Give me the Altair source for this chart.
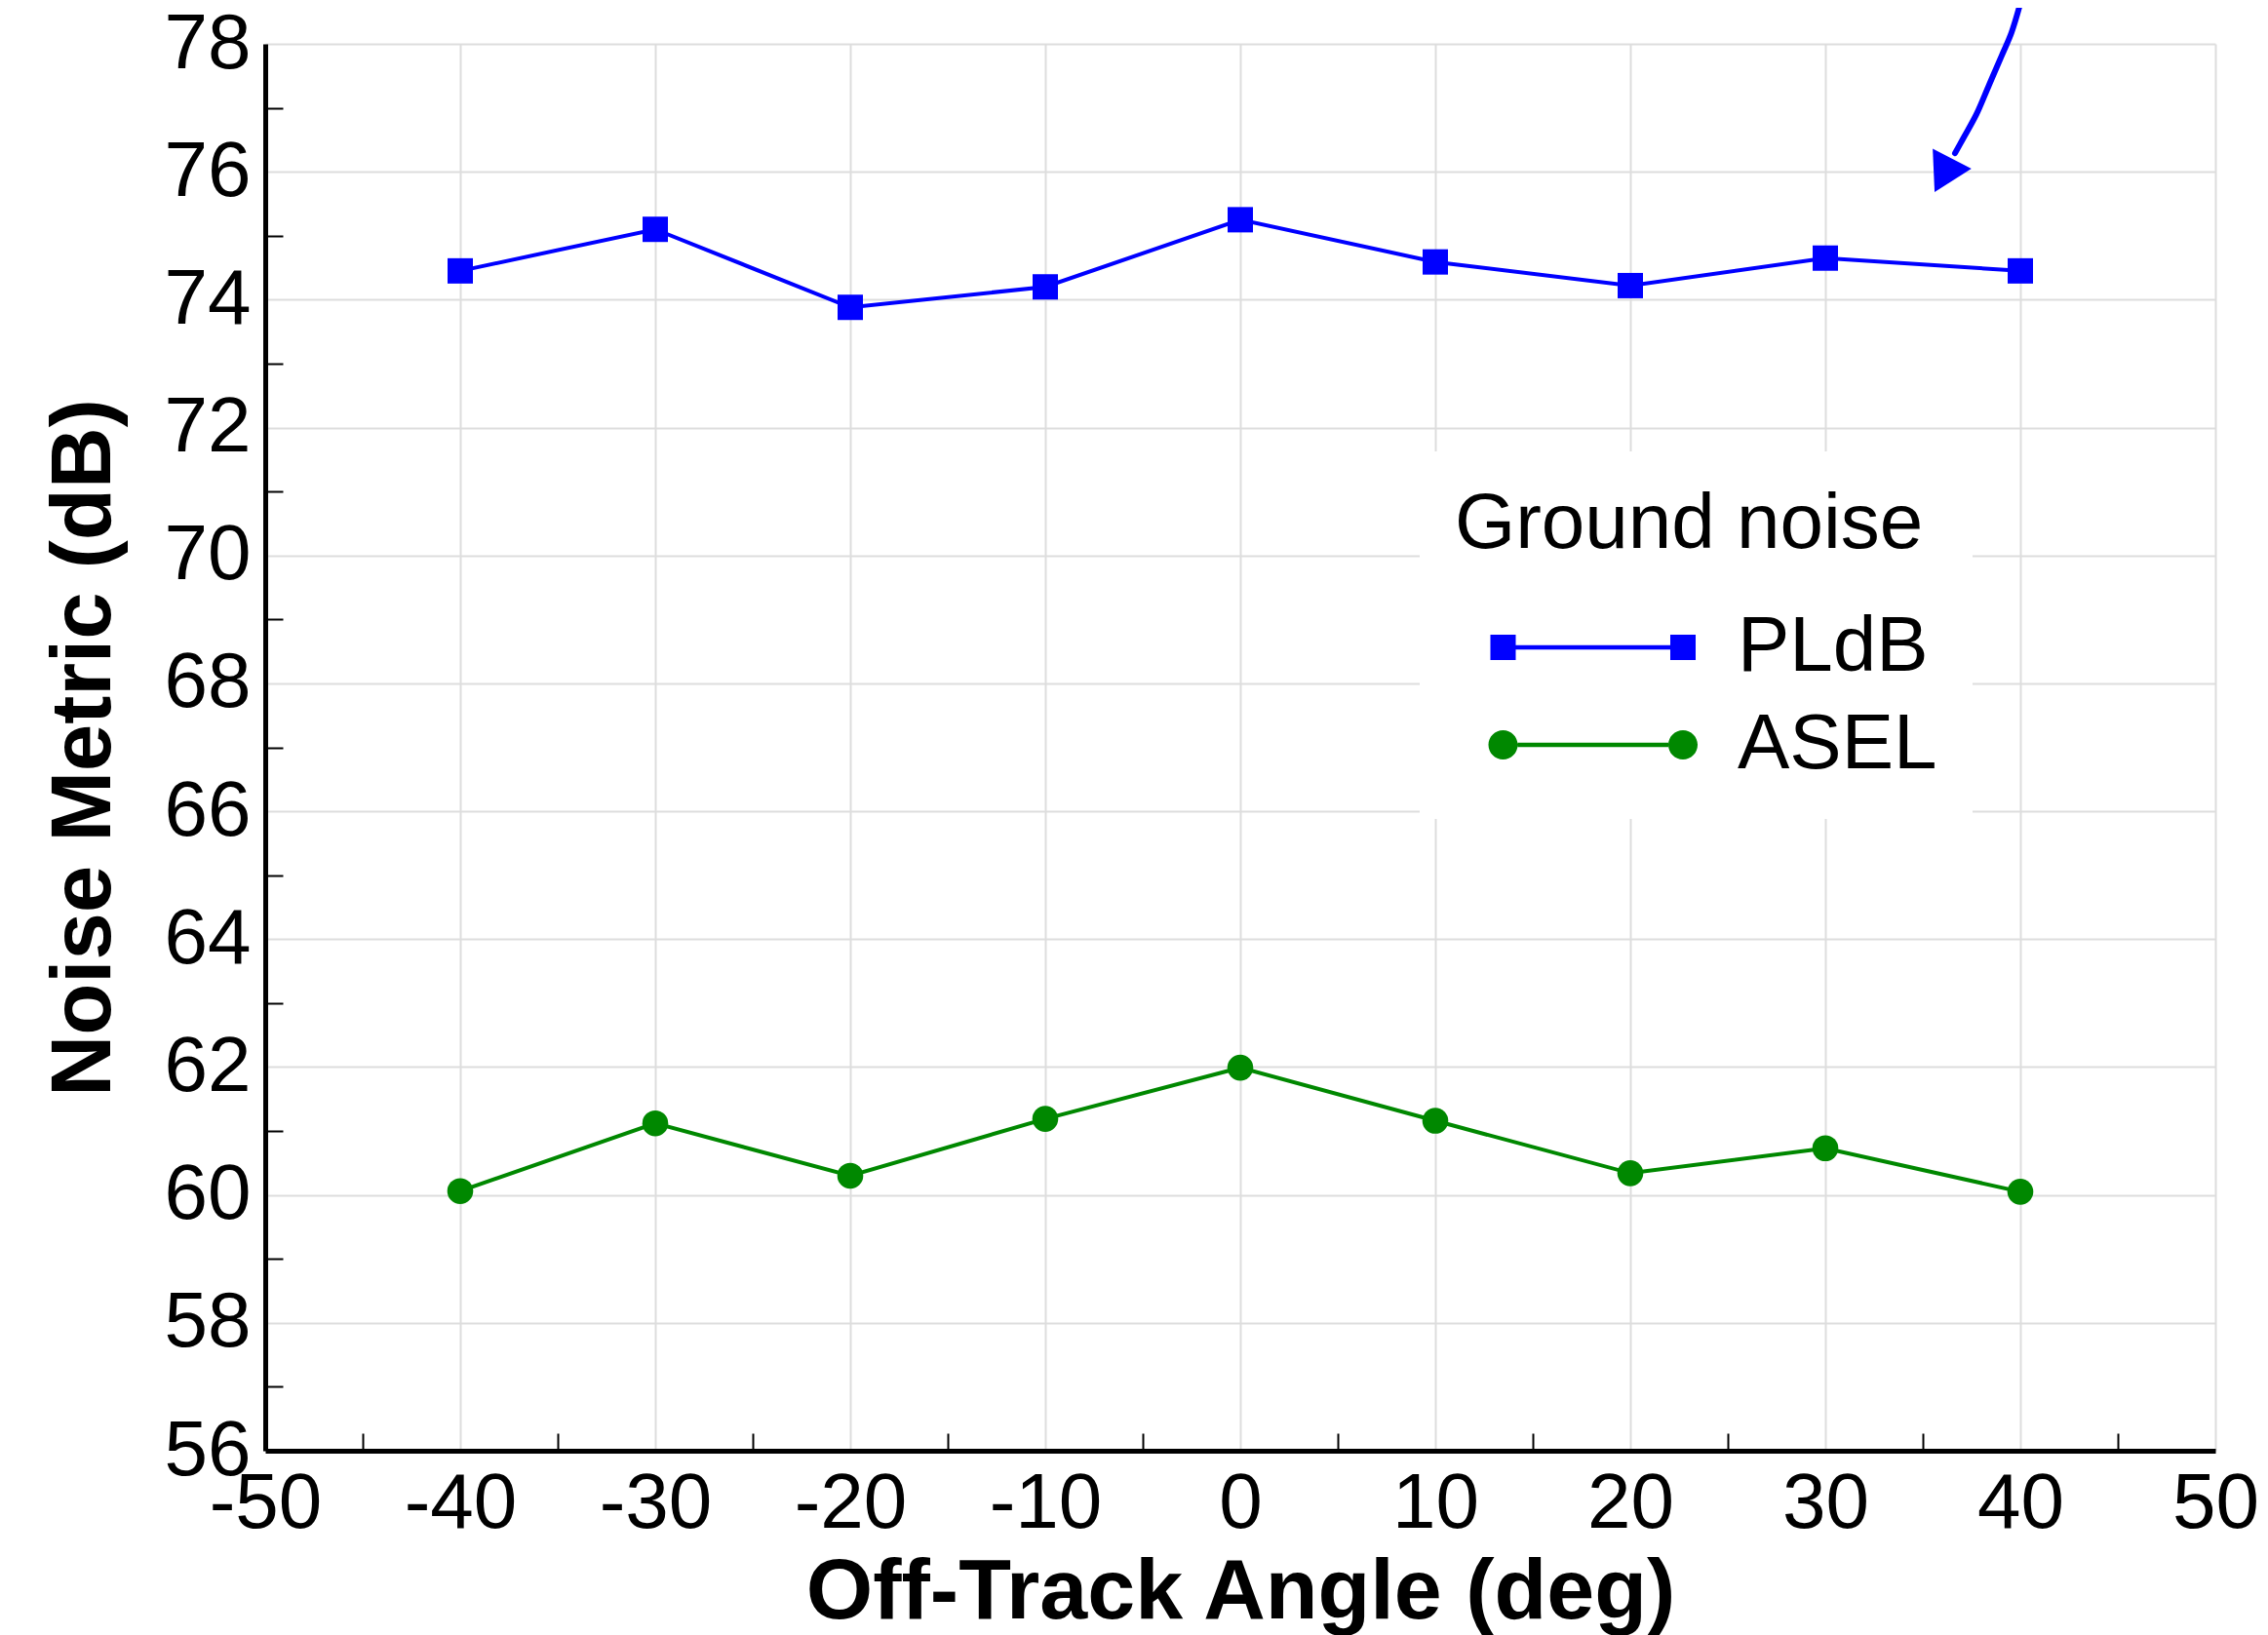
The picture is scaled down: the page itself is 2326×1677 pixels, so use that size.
import altair as alt
import pandas as pd

# ---------------- data ----------------
angles = [-40, -30, -20, -10, 0, 10, 20, 30, 40]
pldb = [74.45, 75.10, 73.88, 74.20, 75.25, 74.59, 74.22, 74.65, 74.45]
asel = [60.06, 61.12, 60.30, 61.19, 61.99, 61.16, 60.34, 60.73, 60.05]
series_names = ["PLdB", "ASEL"]
series_colors = ["#0000ff", "#008800"]

x_ticks = [-50, -40, -30, -20, -10, 0, 10, 20, 30, 40, 50]
y_ticks = [56, 58, 60, 62, 64, 66, 68, 70, 72, 74, 76, 78]
x_minor = [-45, -35, -25, -15, -5, 5, 15, 25, 35, 45]
y_minor = [57, 59, 61, 63, 65, 67, 69, 71, 73, 75, 77]

# hand-drawn annotation arrow (data coordinates)
arrow_x = [40.05, 39.55, 39.05, 38.40, 37.75, 37.05, 36.65]
arrow_y = [78.69, 78.18, 77.82, 77.36, 76.90, 76.51, 76.29]
arrow_head_x = [36.2]
arrow_head_y = [76.03]

# legend symbols: line with markers at both ends (unit = symbol radius)
legend_paths = [
    "M-0.867,-0.867 L0.867,-0.867 L0.867,-0.15 L11.433,-0.15 L11.433,-0.867 "
    "L13.167,-0.867 L13.167,0.867 L11.433,0.867 L11.433,0.15 L0.867,0.15 "
    "L0.867,0.867 L-0.867,0.867 Z",
    "M-1,0 A1,1 0 1,1 1,0 A1,1 0 1,1 -1,0 Z "
    "M11.3,0 A1,1 0 1,1 13.3,0 A1,1 0 1,1 11.3,0 Z "
    "M1,-0.15 L11.3,-0.15 L11.3,0.15 L1,0.15 Z",
]

df = pd.DataFrame({
    "angle": angles * 2,
    "value": pldb + asel,
    "series": ["PLdB"] * len(angles) + ["ASEL"] * len(angles),
})
arrow_df = pd.DataFrame({"x": arrow_x, "y": arrow_y, "i": list(range(len(arrow_x)))})
head_df = pd.DataFrame({"x": arrow_head_x, "y": arrow_head_y})

FONT = "Liberation Sans"
W, H = 2000, 1443

xscale = alt.Scale(domain=[-50, 50], nice=False, zero=False)
yscale = alt.Scale(domain=[56, 78], nice=False, zero=False)
cscale = alt.Scale(domain=series_names, range=series_colors)

x_main = alt.Axis(
    values=x_ticks, grid=True, gridColor="#dddddd", gridWidth=2,
    ticks=False, tickSize=0, domainColor="black", domainWidth=5,
    labelFont=FONT, labelFontSize=80, labelColor="black",
    labelPadding=78, labelBaseline="alphabetic", labelFlush=False,
    labelOverlap=False, labelExpr="datum.value + ''",
    title="Off-Track Angle (deg)", titleFont=FONT, titleFontSize=88,
    titleFontWeight="bold", titleColor="black",
    titleX=W / 2, titleY=171, titleAlign="center", titleBaseline="alphabetic",
    orient="bottom",
)
y_main = alt.Axis(
    values=y_ticks, grid=True, gridColor="#dddddd", gridWidth=2,
    ticks=False, tickSize=0, domainColor="black", domainWidth=5,
    labelFont=FONT, labelFontSize=80, labelColor="black",
    labelPadding=15, labelFlush=False, labelOverlap=False,
    labelExpr="datum.value + ''",
    title="Noise Metric (dB)", titleFont=FONT, titleFontSize=87,
    titleFontWeight="bold", titleColor="black",
    titleX=-160, titleY=H / 2, titleAngle=270, titleAlign="center",
    titleBaseline="alphabetic",
    orient="left",
)
x_minor_axis = alt.Axis(
    values=x_minor, orient="bottom", offset=-18, tickSize=18, tickWidth=2,
    tickColor="black", labels=False, domain=False, grid=False, title=None,
)
y_minor_axis = alt.Axis(
    values=y_minor, orient="left", offset=-18, tickSize=18, tickWidth=2,
    tickColor="black", labels=False, domain=False, grid=False, title=None,
)

leg = alt.Legend(
    title="Ground noise", orient="none", legendX=1184, legendY=418,
    fillColor="white", padding=36, symbolOffset=9.5, labelOffset=200.5,
    symbolSize=900, symbolStrokeWidth=0, symbolOpacity=1,
    titleFont=FONT, titleFontSize=80, titleFontWeight="normal", titleColor="black",
    titlePadding=45, labelFont=FONT, labelFontSize=80, labelColor="black",
    rowPadding=20, labelLimit=0, titleLimit=0,
)

base = alt.Chart(df)
pl = base.transform_filter("datum.series == 'PLdB'")
as_ = base.transform_filter("datum.series == 'ASEL'")

line_p = pl.mark_line(strokeWidth=4, color=series_colors[0]).encode(
    x=alt.X("angle:Q", scale=xscale, axis=x_main),
    y=alt.Y("value:Q", scale=yscale, axis=y_main),
)
line_a = as_.mark_line(strokeWidth=4, color=series_colors[1]).encode(
    x=alt.X("angle:Q", scale=xscale, axis=None),
    y=alt.Y("value:Q", scale=yscale, axis=None),
)
squares = pl.mark_square(size=676, opacity=1, color=series_colors[0]).encode(
    x=alt.X("angle:Q", scale=xscale, axis=x_minor_axis),
    y=alt.Y("value:Q", scale=yscale, axis=y_minor_axis),
)
circles = as_.mark_circle(size=707, opacity=1, color=series_colors[1]).encode(
    x=alt.X("angle:Q", scale=xscale, axis=None),
    y=alt.Y("value:Q", scale=yscale, axis=None),
)

legend_layer = base.transform_filter("false").mark_point(filled=True, opacity=1).encode(
    x=alt.X("angle:Q", scale=xscale, axis=None),
    y=alt.Y("value:Q", scale=yscale, axis=None),
    color=alt.Color("series:N", scale=cscale, legend=leg),
    shape=alt.Shape("series:N", scale=alt.Scale(domain=series_names, range=legend_paths), legend=leg),
)

arrow = alt.Chart(arrow_df).mark_line(
    color="#0000ff", strokeWidth=6, interpolate="catmull-rom", strokeCap="round"
).encode(
    x=alt.X("x:Q", scale=xscale, axis=None),
    y=alt.Y("y:Q", scale=yscale, axis=None),
    order="i:Q",
)
arrow_head = alt.Chart(head_df).mark_point(
    shape="triangle", filled=True, size=2000, angle=207.5, color="#0000ff", opacity=1
).encode(
    x=alt.X("x:Q", scale=xscale, axis=None),
    y=alt.Y("y:Q", scale=yscale, axis=None),
)

chart = alt.layer(line_p, line_a, squares, circles, legend_layer, arrow, arrow_head).resolve_axis(
    x="independent", y="independent"
).properties(
    width=W, height=H,
    autosize=alt.AutoSizeParams(type="none"),
    padding={"left": 264, "top": 37, "right": 46, "bottom": 189},
).configure_view(strokeWidth=0)

chart.save("out.html", embed_options={"renderer": "svg", "actions": False})
